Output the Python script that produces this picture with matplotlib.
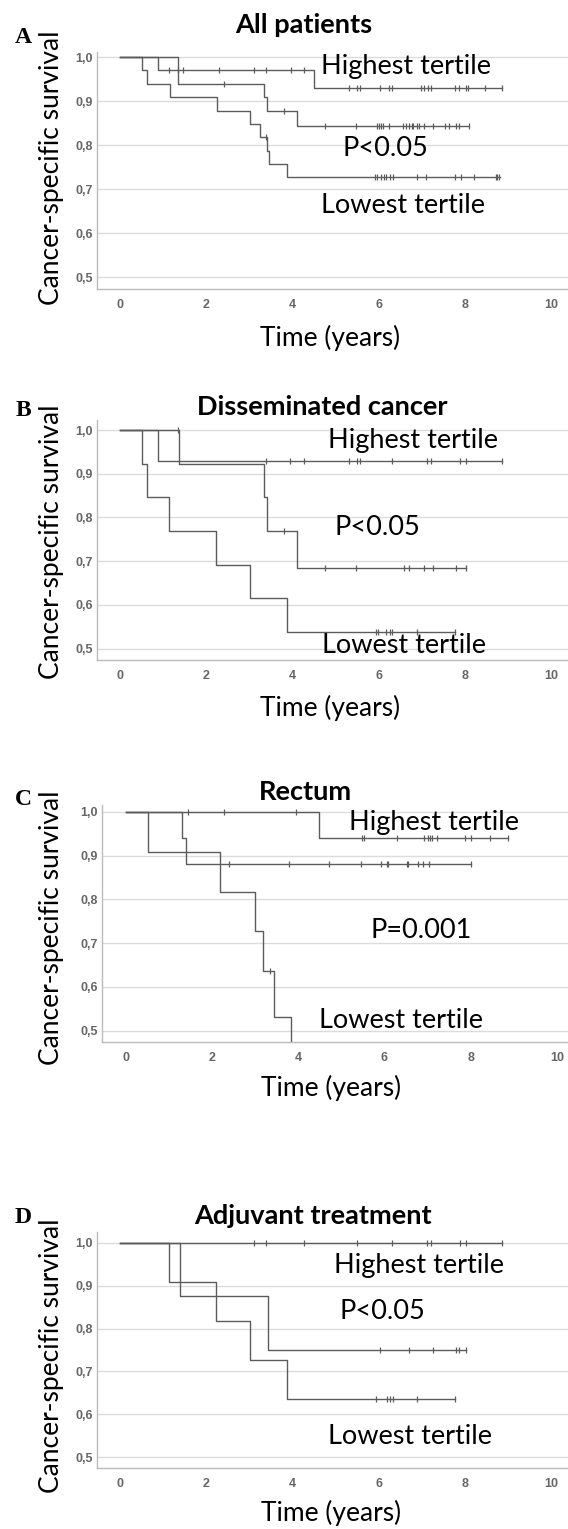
import numpy as np
import matplotlib
matplotlib.use("Agg")
import matplotlib.pyplot as plt

W, H = 568, 1529

# ---- data: step times (event), survival levels, censor times, last follow-up ----
# Panel A - All patients
hi_A_t = [0.88, 4.49]
hi_A_s = [0.970, 0.931]
hi_A_c = [1.12, 1.35, 1.46, 2.28, 3.10, 3.39, 3.96, 4.26, 5.31, 5.50, 5.56, 6.02, 6.24,
          6.30, 6.97, 7.05, 7.14, 7.22, 7.77, 7.85, 8.02, 8.06, 8.46, 8.86]
hi_A_end = 8.86
mid_A_t = [1.33, 3.33, 3.41, 4.09]
mid_A_s = [0.939, 0.909, 0.879, 0.845]
mid_A_c = [2.41, 3.80, 4.74, 5.48, 5.96, 6.00, 6.04, 6.09, 6.24, 6.55, 6.63, 6.70, 6.76,
           6.80, 6.89, 6.93, 7.05, 7.25, 7.54, 7.63, 7.80, 7.85, 8.10]
mid_A_end = 8.10
lo_A_t = [0.50, 0.61, 1.15, 2.25, 3.01, 3.24, 3.41, 3.46, 3.86]
lo_A_s = [0.970, 0.939, 0.909, 0.879, 0.848, 0.818, 0.788, 0.758, 0.727]
lo_A_c = [3.39, 5.92, 5.96, 6.04, 6.13, 6.17, 6.25, 6.34, 6.89, 7.10, 7.77, 7.90, 8.22,
          8.71, 8.75, 8.80]
lo_A_end = 8.82

# Panel B - Disseminated cancer
hi_B_t = [0.88]
hi_B_s = [0.929]
hi_B_c = [3.39, 3.94, 4.26, 5.31, 5.50, 5.56, 6.31, 7.12, 7.22, 7.88, 8.02, 8.86]
hi_B_end = 8.86
mid_B_t = [1.36, 3.33, 3.41, 4.09]
mid_B_s = [0.923, 0.846, 0.769, 0.684]
mid_B_c = [1.33, 3.80, 4.74, 5.48, 6.59, 6.70, 7.05, 7.25, 7.80, 8.02]
mid_B_end = 8.02
lo_B_t = [0.50, 0.61, 1.14, 2.23, 3.01, 3.86]
lo_B_s = [0.923, 0.846, 0.769, 0.692, 0.615, 0.538]
lo_B_c = [5.94, 5.98, 6.17, 6.25, 6.31, 6.89, 7.77]
lo_B_end = 7.77

# Panel C - Rectum
hi_C_t = [4.48]
hi_C_s = [0.941]
hi_C_c = [1.45, 2.28, 3.95, 5.49, 5.53, 6.30, 6.93, 7.02, 7.07, 7.11, 7.21, 7.86, 8.01,
          8.45, 8.87]
hi_C_end = 8.87
mid_C_t = [1.31, 1.39]
mid_C_s = [0.941, 0.882]
mid_C_c = [2.39, 3.79, 4.71, 5.46, 5.93, 6.05, 6.09, 6.52, 6.56, 6.79, 6.90, 7.03, 8.00]
mid_C_end = 8.00
lo_C_t = [0.51, 2.19, 3.01, 3.19, 3.45, 3.83]
lo_C_s = [0.909, 0.818, 0.727, 0.636, 0.530, 0.424]
lo_C_c = [3.34]
lo_C_end = 3.83

# Panel D - Adjuvant treatment
hi_D_t = []
hi_D_s = []
hi_D_c = [3.10, 3.39, 4.26, 5.50, 6.31, 7.12, 7.20, 7.88, 8.02, 8.86]
hi_D_end = 8.86
mid_D_t = [1.39, 3.43]
mid_D_s = [0.875, 0.750]
mid_D_c = [6.02, 6.69, 7.25, 7.80, 7.85, 8.02]
mid_D_end = 8.02
lo_D_t = [1.14, 2.23, 3.01, 3.86]
lo_D_s = [0.909, 0.818, 0.727, 0.636]
lo_D_c = [5.93, 6.20, 6.25, 6.32, 6.89, 7.77]
lo_D_end = 7.77

titles = ["All patients", "Disseminated cancer", "Rectum", "Adjuvant treatment"]
letters = ["A", "B", "C", "D"]
pvals = ["P<0.05", "P<0.05", "P=0.001", "P<0.05"]
x_ticks = [0, 2, 4, 6, 8, 10]
y_ticks = [0.5, 0.6, 0.7, 0.8, 0.9, 1.0]
y_ticklabels = ["0,5", "0,6", "0,7", "0,8", "0,9", "1,0"]

panels = [
    [(hi_A_t, hi_A_s, hi_A_c, hi_A_end), (mid_A_t, mid_A_s, mid_A_c, mid_A_end), (lo_A_t, lo_A_s, lo_A_c, lo_A_end)],
    [(hi_B_t, hi_B_s, hi_B_c, hi_B_end), (mid_B_t, mid_B_s, mid_B_c, mid_B_end), (lo_B_t, lo_B_s, lo_B_c, lo_B_end)],
    [(hi_C_t, hi_C_s, hi_C_c, hi_C_end), (mid_C_t, mid_C_s, mid_C_c, mid_C_end), (lo_C_t, lo_C_s, lo_C_c, lo_C_end)],
    [(hi_D_t, hi_D_s, hi_D_c, hi_D_end), (mid_D_t, mid_D_s, mid_D_c, mid_D_end), (lo_D_t, lo_D_s, lo_D_c, lo_D_end)],
]

# layout in pixels: left spine, top/bottom of y spine; axis limits
layout = [
    dict(left=97.1, top=51.7, bottom=289.3, xlim=(-0.538, 10.39), ylim=(0.473, 1.0127)),
    dict(left=97.1, top=420, bottom=660, xlim=(-0.538, 10.39), ylim=(0.474, 1.023)),
    dict(left=102.2, top=805, bottom=1042.3, xlim=(-0.545, 10.26), ylim=(0.473, 1.016)),
    dict(left=97.1, top=1231.7, bottom=1468.3, xlim=(-0.538, 10.39), ylim=(0.474, 1.026)),
]
# annotation positions (data coords): highest, p-value, lowest
ann = [
    [(4.65, 0.978), (5.16, 0.792), (4.65, 0.664)],
    [(4.82, 0.977), (4.98, 0.776), (4.68, 0.508)],
    [(5.17, 0.975), (5.67, 0.728), (4.49, 0.524)],
    [(4.95, 0.948), (5.08, 0.839), (4.82, 0.548)],
]
title_px = [(304, 25), (322, 407), (305, 792), (313, 1216)]
letter_px = [(23, 37.5), (23.5, 410), (23.5, 799.5), (23.5, 1217.5)]
ylab_px = [(59, 167.5), (59, 541.7), (59, 927.5), (59, 1355.8)]
xlab_px = [(330, 338), (330, 708), (331, 1088), (331, 1513)]


def fx(x):
    return x / W


def fy(y):
    return 1 - y / H


line_col = "#5c5c5c"
sans = ["Lato", "DejaVu Sans"]

fig = plt.figure(figsize=(W / 100, H / 100), dpi=100)

for i in range(4):
    L = layout[i]
    ax = fig.add_axes([fx(L["left"]), fy(L["bottom"]), 1 - fx(L["left"]),
                       (L["bottom"] - L["top"]) / H])
    ax.set_xlim(*L["xlim"])
    ax.set_ylim(*L["ylim"])
    for yt in y_ticks:
        ax.axhline(yt, color="#dcdcdc", lw=1.0, zorder=0)
    for (t, s, c, end) in panels[i]:
        times = [0] + list(t) + [end]
        surv = [1.0] + list(s) + [s[-1] if s else 1.0]
        ax.step(times, surv, where="post", color=line_col, lw=1.0)
        # censor marks sit on the current step level
        idx = np.searchsorted(np.array(t), np.array(c), side="right")
        lev = np.array([1.0] + list(s))[idx]
        ax.plot(c, lev, ls="none", marker="|", ms=4, mew=0.9, color=line_col)
    ax.set_xticks(x_ticks)
    ax.set_xticklabels([str(v) for v in x_ticks])
    ax.set_yticks(y_ticks)
    ax.set_yticklabels(y_ticklabels)
    ax.tick_params(length=0, labelsize=9, labelcolor="#666666")
    ax.tick_params(axis="x", pad=7)
    ax.tick_params(axis="y", pad=3)
    for lab in ax.get_xticklabels() + ax.get_yticklabels():
        lab.set_fontfamily("Liberation Sans")
        lab.set_fontweight("bold")
    for sp in ["top", "right"]:
        ax.spines[sp].set_visible(False)
    for sp in ["left", "bottom"]:
        ax.spines[sp].set_color("#bbbbbb")
        ax.spines[sp].set_linewidth(1.0)

    (hx, hy), (px_, py_), (lx, ly) = ann[i]
    ax.text(hx, hy, "Highest tertile", fontsize=19.5, family=sans, va="center", ha="left")
    ax.text(px_, py_, pvals[i], fontsize=19.5, family=sans, va="center", ha="left")
    ax.text(lx, ly, "Lowest tertile", fontsize=19.5, family=sans, va="center", ha="left")

    fig.text(fx(title_px[i][0]), fy(title_px[i][1]), titles[i], fontsize=19.5,
             fontweight="bold", family=sans, ha="center", va="center")
    fig.text(fx(letter_px[i][0]), fy(letter_px[i][1]), letters[i], fontsize=17,
             fontweight="bold", family="Liberation Serif", ha="center", va="center")
    fig.text(fx(ylab_px[i][0]), fy(ylab_px[i][1]), "Cancer-specific survival", fontsize=19,
             family=sans, rotation=90, rotation_mode="anchor", ha="center", va="baseline")
    fig.text(fx(xlab_px[i][0]), fy(xlab_px[i][1]), "Time (years)", fontsize=19,
             family=sans, ha="center", va="center")

fig.savefig("out.png", dpi=100)
